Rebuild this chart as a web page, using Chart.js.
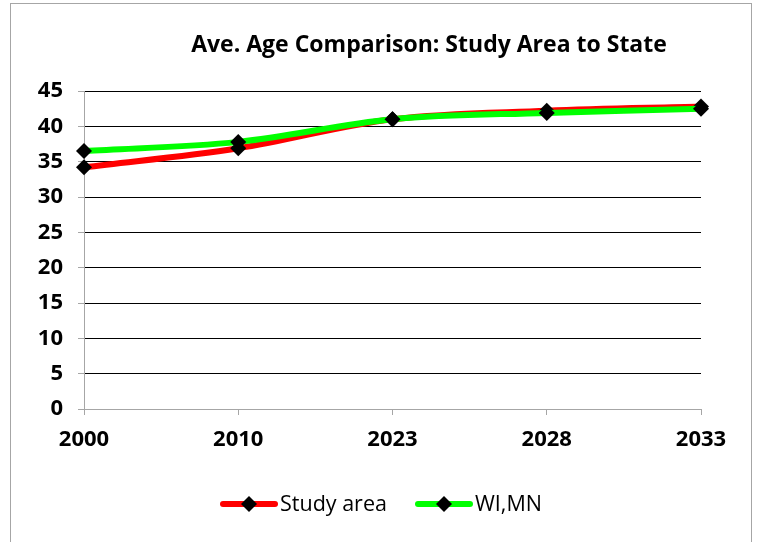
<!DOCTYPE html>
<html lang="en">
  <head>
    <meta charset="UTF-8" />
    <title>Ave. Age Comparison</title>
    <style>
      html, body { margin: 0; padding: 0; background: #fff; }
      .wrap { position: relative; width: 762px; height: 542px; overflow: hidden; }
      .frame {
        position: absolute; left: 10px; top: 3px; width: 742px; height: 600px;
        border: 1px solid #a6a6a6; box-sizing: border-box;
      }
      canvas { position: absolute; left: 0; top: 0; }
    </style>
  </head>
  <body>
    <div class="wrap">
      <div class="frame"></div>
      <canvas id="chart" width="762" height="542"></canvas>
    </div>
    <script src="https://cdn.jsdelivr.net/npm/chart.js"></script>
    <script>
      const years = ["2000", "2010", "2023", "2028", "2033"];
      const studyArea = [34.2, 36.9, 41.0, 42.2, 42.8];
      const wiMn = [36.5, 37.8, 41.0, 41.9, 42.5];
      const yTicks = [0, 5, 10, 15, 20, 25, 30, 35, 40, 45];

      const titlePlugin = {
        id: "sideTitle",
        afterDraw(chart) {
          const ctx = chart.ctx;
          ctx.save();
          ctx.font = "bold 23px 'Open Sans'";
          ctx.fillStyle = "#000";
          ctx.textAlign = "center";
          ctx.textBaseline = "middle";
          ctx.fillText("Ave. Age Comparison: Study Area to State", 429, 45);
          ctx.restore();
        },
      };

      const legendPlugin = {
        id: "lineLegend",
        afterDraw(chart) {
          const ctx = chart.ctx;
          const y = 504;
          const starts = [223, 418];
          ctx.save();
          chart.data.datasets.forEach((ds, i) => {
            const x = starts[i];
            ctx.strokeStyle = ds.borderColor;
            ctx.lineWidth = 6;
            ctx.lineCap = "round";
            ctx.beginPath();
            ctx.moveTo(x, y);
            ctx.lineTo(x + 52, y);
            ctx.stroke();
            ctx.fillStyle = "#000";
            ctx.beginPath();
            ctx.moveTo(x + 26, y - 8);
            ctx.lineTo(x + 34, y);
            ctx.lineTo(x + 26, y + 8);
            ctx.lineTo(x + 18, y);
            ctx.closePath();
            ctx.fill();
            ctx.font = "21.5px 'Open Sans'";
            ctx.textAlign = "left";
            ctx.textBaseline = "middle";
            ctx.fillText(ds.label, x + 57, y + 1);
          });
          ctx.restore();
        },
      };

      new Chart(document.getElementById("chart"), {
        type: "line",
        data: {
          labels: years,
          datasets: [
            {
              label: "Study area",
              data: studyArea,
              borderColor: "#ff0000",
              order: 1,
            },
            {
              label: "WI,MN",
              data: wiMn,
              borderColor: "#00ff00",
              order: 0,
            },
          ],
        },
        plugins: [titlePlugin, legendPlugin],
        options: {
          responsive: false,
          animation: false,
          layout: { padding: { top: 91, right: 61, bottom: 73, left: 0 } },
          elements: {
            line: { borderWidth: 6, tension: 0.35 },
            point: {
              pointStyle: "rectRot",
              radius: 8,
              backgroundColor: "#000",
              borderColor: "#000",
              borderWidth: 0,
            },
          },
          plugins: {
            legend: { display: false },
            title: { display: false },
            tooltip: { enabled: false },
          },
          scales: {
            x: {
              offset: false,
              afterFit(scale) { scale.height = 60; },
              grid: {
                drawOnChartArea: false,
                drawTicks: true,
                tickLength: 6,
                tickColor: "#a6a6a6",
              },
              border: { color: "#a6a6a6", width: 1 },
              ticks: {
                padding: 12,
                color: "#000",
                font: { family: "'Open Sans'", weight: "bold", size: 22 },
                maxRotation: 0,
              },
            },
            y: {
              min: 0,
              max: 45,
              afterFit(scale) { scale.width = 84; },
              afterBuildTicks(scale) {
                scale.ticks = yTicks.map((v) => ({ value: v }));
              },
              grid: {
                color: (c) => (c.tick && c.tick.value === 0 ? "#a6a6a6" : "#000"),
                lineWidth: 1,
                drawTicks: true,
                tickLength: 6,
                tickColor: "#a6a6a6",
              },
              border: { color: "#a6a6a6", width: 1 },
              ticks: {
                padding: 15,
                color: "#000",
                font: { family: "'Open Sans'", weight: "bold", size: 22 },
              },
            },
          },
        },
      });
    </script>
  </body>
</html>
